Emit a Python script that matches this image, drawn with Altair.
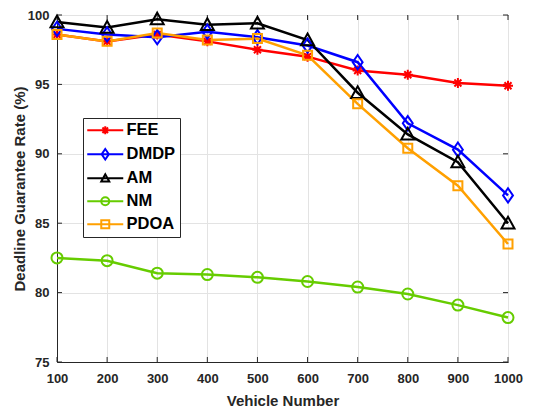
import altair as alt
import pandas as pd

# ---------------- data ----------------
x_vals = [100, 200, 300, 400, 500, 600, 700, 800, 900, 1000]
fee  = [98.6, 98.1, 98.6, 98.1, 97.5, 97.0, 96.0, 95.7, 95.1, 94.9]
dmdp = [99.0, 98.6, 98.4, 98.8, 98.4, 97.8, 96.6, 92.2, 90.3, 87.0]
am   = [99.5, 99.1, 99.7, 99.3, 99.4, 98.2, 94.4, 91.4, 89.4, 85.0]
nm   = [82.5, 82.3, 81.4, 81.3, 81.1, 80.8, 80.4, 79.9, 79.1, 78.2]
pdoa = [98.6, 98.1, 98.7, 98.2, 98.3, 97.1, 93.6, 90.4, 87.7, 83.5]
series_names = ["FEE", "DMDP", "AM", "NM", "PDOA"]
series_vals = [fee, dmdp, am, nm, pdoa]
y_ticks = [75, 80, 85, 90, 95, 100]

colors = ["#ff0000", "#0000ff", "#000000", "#66cc00", "#ffa000"]
marker_paths = [
    "M-1,0L1,0M0,-1L0,1M-0.7,-0.7L0.7,0.7M-0.7,0.7L0.7,-0.7",
    "M0,-1.3L0.9,0L0,1.3L-0.9,0Z",
    "M0,-1L1,0.8L-1,0.8Z",
    "M-1,0A1,1,0,1,0,1,0A1,1,0,1,0,-1,0Z",
    "M-1,-1L1,-1L1,1L-1,1Z",
]
marker_sizes = [100, 121, 169, 121, 81]
line_seg = "M-4.5,0L4.5,0"
legend_paths = [line_seg + p for p in marker_paths]

rows = []
for name, vals in zip(series_names, series_vals):
    for xv, yv in zip(x_vals, vals):
        rows.append({"x": xv, "y": yv, "series": name})
df = pd.DataFrame(rows)
xt = pd.DataFrame({"t": x_vals})
yt = pd.DataFrame({"t": y_ticks})

W, H = 451, 347
FONT = "Liberation Sans"
TXT = "#262626"

legend = alt.Legend(
    title=None, orient="none", legendX=26, legendY=103, direction="vertical",
    fillColor="white", strokeColor=TXT, padding=4, cornerRadius=0,
    labelFont=FONT, labelFontSize=16.5, labelFontWeight="bold", labelColor="black",
    symbolSize=64, symbolStrokeWidth=2, symbolOffset=10, labelOffset=13, rowPadding=6,
    symbolOpacity=1,
)

xs = alt.Scale(domain=[100, 1000], nice=False, zero=False)
ys = alt.Scale(domain=[75, 100], nice=False, zero=False)
xaxis = alt.Axis(values=x_vals, title="Vehicle Number", format="d")
yaxis = alt.Axis(values=y_ticks, title="Deadline Guarantee Rate (%)", format="d")
cscale = alt.Scale(domain=series_names, range=colors)
C = alt.Color("series:N", sort=series_names, scale=cscale, legend=legend)

X = alt.X("x:Q", scale=xs, axis=xaxis)
Y = alt.Y("y:Q", scale=ys, axis=yaxis)

lines = alt.Chart(df).mark_line(strokeWidth=2.5).encode(x=X, y=Y, color=C)

point_layers = []
for name, path, sz in zip(series_names, marker_paths, marker_sizes):
    point_layers.append(
        alt.Chart(df).mark_point(filled=False, strokeWidth=2, opacity=1).encode(
            x=X, y=Y, color=C, shape=alt.value(path), size=alt.value(sz),
        ).transform_filter(alt.datum.series == name)
    )

# legend-only layer (no marks drawn: filtered empty)
leg = alt.Chart(df).mark_point(filled=False, strokeWidth=2, opacity=1).encode(
    x=X, y=Y, color=C,
    shape=alt.Shape("series:N", sort=series_names,
                    scale=alt.Scale(domain=series_names, range=legend_paths), legend=legend),
).transform_filter("datum.x < 0")

tick_col = TXT
xb = alt.Chart(xt).mark_rule(color=tick_col, strokeWidth=1).encode(
    x=alt.X("t:Q", scale=xs, axis=xaxis), y=alt.value(H), y2=alt.value(H - 5))
xtp = alt.Chart(xt).mark_rule(color=tick_col, strokeWidth=1).encode(
    x=alt.X("t:Q", scale=xs, axis=xaxis), y=alt.value(0), y2=alt.value(5))
yl = alt.Chart(yt).mark_rule(color=tick_col, strokeWidth=1).encode(
    y=alt.Y("t:Q", scale=ys, axis=yaxis), x=alt.value(0), x2=alt.value(5))
yr = alt.Chart(yt).mark_rule(color=tick_col, strokeWidth=1).encode(
    y=alt.Y("t:Q", scale=ys, axis=yaxis), x=alt.value(W), x2=alt.value(W - 5))

chart = alt.layer(xb, xtp, yl, yr, lines, *point_layers, leg).properties(
    width=W, height=H,
    autosize=alt.AutoSizeParams(type="none"),
    padding={"left": 49, "top": 7, "right": 32, "bottom": 46},
).configure_view(
    stroke=TXT, strokeWidth=1
).configure_axis(
    grid=True, gridColor="#e3e3e3", gridWidth=1,
    domainColor=TXT, domainWidth=1, ticks=False, labelFlush=False,
    labelFont=FONT, labelFontSize=13, labelFontWeight="bold", labelColor=TXT,
    titleFont=FONT, titleFontSize=15, titleFontWeight="bold", titleColor=TXT,
).configure_axisX(
    labelPadding=10, titlePadding=8, labelOverlap=False,
).configure_axisY(
    labelPadding=8, titlePadding=0,
)

chart.save("out.html", embed_options={"renderer": "svg", "actions": False})
